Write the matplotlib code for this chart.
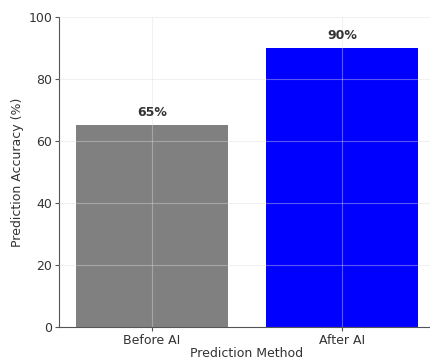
import matplotlib.pyplot as plt

methods = ['Before AI', 'After AI']
accuracy = [65, 90]
colors = ['gray', 'blue']

fig = plt.figure(figsize=(4.31, 3.6), dpi=100)
ax = fig.add_axes([0.137, 0.092, 0.872, 0.861])

bars = ax.bar(methods, accuracy, color=colors, width=0.8)

# percentage labels above each bar
for b, v in zip(bars, accuracy):
    ax.text(b.get_x() + b.get_width() / 2, v + 2, f'{v}%',
            ha='center', va='bottom', fontsize=9, fontweight='bold', color='#333333')

ax.set_ylim(0, 100)
ax.set_xlabel('Prediction Method', fontsize=9, color='#333333', labelpad=0)
ax.set_ylabel('Prediction Accuracy (%)', fontsize=9, color='#333333', labelpad=3)
ax.tick_params(labelsize=9, colors='#555555', labelcolor='#333333', length=3, pad=2)
ax.grid(True, color='#dddddd', alpha=0.4, linewidth=0.8)
ax.set_axisbelow(False)
for s in ['top', 'right']:
    ax.spines[s].set_visible(False)
for s in ['left', 'bottom']:
    ax.spines[s].set_color('#555555')

fig.savefig('out.png', dpi=100)
